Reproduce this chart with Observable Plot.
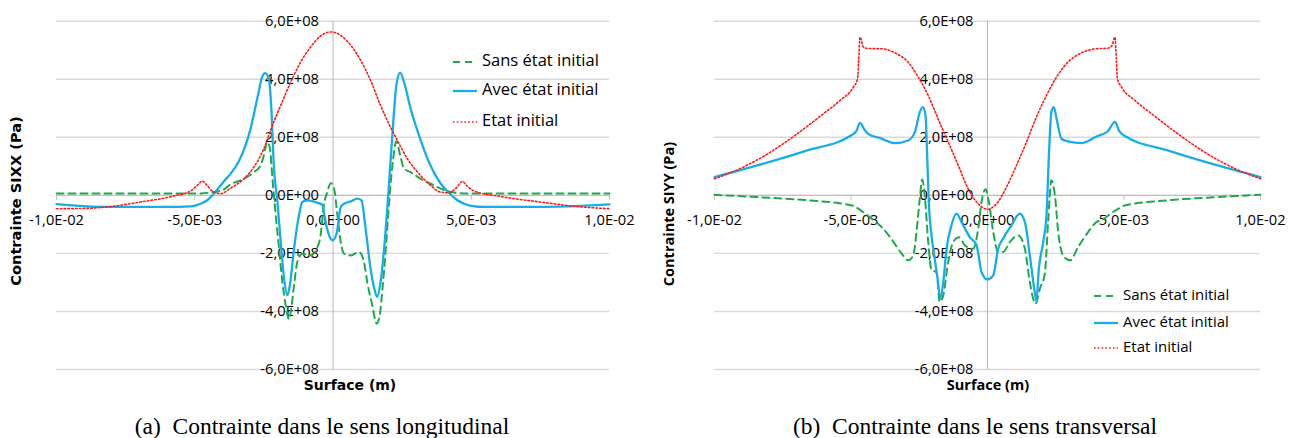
<!DOCTYPE html>
<html><head><meta charset="utf-8">
<script src="https://cdn.jsdelivr.net/npm/d3@7"></script>
<script src="https://cdn.jsdelivr.net/npm/@observablehq/plot@0.6"></script>
<style>
body{margin:0;background:#fff}
#wrap{position:relative;width:1291px;height:438px;overflow:hidden;background:#fff}
#wrap svg{position:absolute;top:0}
.cap{position:absolute;top:412px;font-family:"Liberation Serif",serif;font-size:23.5px;line-height:28px;white-space:pre;transform:translateX(-50%);color:#000}
</style></head><body><div id="wrap"></div>
<script>
// ---- ticks ----
const xTicks = [-0.01, -0.005, 0, 0.005, 0.01];
const xTickLabels = ["-1,0E-02", "-5,0E-03", "0,0E+00", "5,0E-03", "1,0E-02"];
const yTicks = [-6e8, -4e8, -2e8, 0, 2e8, 4e8, 6e8];
const yTickLabels = ["-6,0E+08", "-4,0E+08", "-2,0E+08", "0,0E+00", "2,0E+08", "4,0E+08", "6,0E+08"];
const seriesNames = ["Sans état initial", "Avec état initial", "Etat initial"];
const captions = ["(a)  Contrainte dans le sens longitudinal", "(b)  Contrainte dans le sens transversal"];

// ---- (a) SIXX ----
const sixxSans = [[-10e-3,0.06e8],[-8e-3,0.06e8],[-6e-3,0.06e8],[-5e-3,0.06e8],[-4.5e-3,0.09e8],[-4.0e-3,0.18e8],[-3.7e-3,0.38e8],[-3.22e-3,0.57e8],[-2.86e-3,0.80e8],[-2.62e-3,1.03e8],[-2.50e-3,1.38e8],[-2.38e-3,1.84e8],[-2.28e-3,1.61e8],[-2.20e-3,0.69e8],[-2.07e-3,-0.69e8],[-1.95e-3,-1.84e8],[-1.83e-3,-2.99e8],[-1.71e-3,-3.79e8],[-1.59e-3,-4.27e8],[-1.51e-3,-3.90e8],[-1.41e-3,-3.10e8],[-1.29e-3,-2.30e8],[-1.11e-3,-2.01e8],[-0.81e-3,-2.07e8],[-0.59e-3,-1.84e8],[-0.45e-3,-1.38e8],[-0.33e-3,-0.34e8],[-0.21e-3,0.11e8],[-0.08e-3,0.42e8],[0.04e-3,0.23e8],[0.16e-3,-0.69e8],[0.28e-3,-1.61e8],[0.40e-3,-2.01e8],[0.64e-3,-2.07e8],[0.94e-3,-1.95e8],[1.12e-3,-2.30e8],[1.24e-3,-2.99e8],[1.42e-3,-3.79e8],[1.58e-3,-4.42e8],[1.69e-3,-4.13e8],[1.79e-3,-3.21e8],[1.91e-3,-1.84e8],[2.03e-3,-0.23e8],[2.15e-3,1.03e8],[2.29e-3,1.86e8],[2.43e-3,1.38e8],[2.57e-3,0.92e8],[2.81e-3,0.80e8],[3.17e-3,0.57e8],[3.53e-3,0.40e8],[3.90e-3,0.23e8],[4.5e-3,0.08e8],[5e-3,0.06e8],[6e-3,0.06e8],[8e-3,0.06e8],[10e-3,0.06e8]];
const sixxAvec = [[-10e-3,-0.30e8],[-9e-3,-0.37e8],[-8e-3,-0.40e8],[-6e-3,-0.40e8],[-5.15e-3,-0.38e8],[-4.79e-3,-0.29e8],[-4.55e-3,-0.17e8],[-4.31e-3,0.06e8],[-3.95e-3,0.48e8],[-3.70e-3,0.75e8],[-3.40e-3,1.18e8],[-2.98e-3,2.30e8],[-2.74e-3,3.33e8],[-2.56e-3,4.08e8],[-2.46e-3,4.21e8],[-2.32e-3,4.02e8],[-2.23e-3,2.98e8],[-2.14e-3,1.03e8],[-2.01e-3,-0.23e8],[-1.89e-3,-1.61e8],[-1.77e-3,-2.87e8],[-1.65e-3,-3.44e8],[-1.56e-3,-3.10e8],[-1.41e-3,-1.84e8],[-1.23e-3,-0.69e8],[-1.11e-3,-0.23e8],[-0.93e-3,-0.17e8],[-0.57e-3,-0.25e8],[-0.39e-3,-0.32e8],[-0.27e-3,-0.92e8],[-0.14e-3,-1.38e8],[-0.02e-3,-1.55e8],[0.13e-3,-1.32e8],[0.28e-3,-0.40e8],[0.40e-3,-0.29e8],[0.64e-3,-0.21e8],[0.88e-3,-0.11e8],[1.03e-3,-0.17e8],[1.18e-3,-1.15e8],[1.36e-3,-2.53e8],[1.51e-3,-3.27e8],[1.60e-3,-3.50e8],[1.72e-3,-2.99e8],[1.87e-3,-1.61e8],[2.03e-3,0.46e8],[2.18e-3,2.53e8],[2.29e-3,3.79e8],[2.43e-3,4.23e8],[2.57e-3,3.90e8],[2.81e-3,2.98e8],[3.11e-3,2.07e8],[3.47e-3,1.15e8],[3.90e-3,0.40e8],[4.2e-3,0.08e8],[4.5e-3,-0.17e8],[5.0e-3,-0.36e8],[5.5e-3,-0.40e8],[7e-3,-0.40e8],[8.5e-3,-0.38e8],[10e-3,-0.31e8]];
const sixxEtat = [[-10e-3,-0.46e8],[-9e-3,-0.45e8],[-8.17e-3,-0.40e8],[-6.96e-3,-0.23e8],[-5.75e-3,-0.02e8],[-5.15e-3,0.15e8],[-4.91e-3,0.34e8],[-4.73e-3,0.49e8],[-4.55e-3,0.34e8],[-4.37e-3,0.15e8],[-4.06e-3,0.06e8],[-3.70e-3,0.25e8],[-3.22e-3,0.57e8],[-2.86e-3,0.98e8],[-2.50e-3,1.61e8],[-2.26e-3,2.24e8],[-1.89e-3,3.10e8],[-1.53e-3,3.90e8],[-1.17e-3,4.59e8],[-0.81e-3,5.11e8],[-0.45e-3,5.49e8],[-0.08e-3,5.63e8],[0.28e-3,5.51e8],[0.64e-3,5.17e8],[1.00e-3,4.65e8],[1.36e-3,3.96e8],[1.72e-3,3.10e8],[2.08e-3,2.35e8],[2.33e-3,1.89e8],[2.69e-3,1.26e8],[3.06e-3,0.80e8],[3.53e-3,0.34e8],[3.90e-3,0.11e8],[4.2e-3,0.09e8],[4.45e-3,0.25e8],[4.68e-3,0.48e8],[4.85e-3,0.32e8],[5.1e-3,0.15e8],[6.0e-3,-0.03e8],[7.5e-3,-0.23e8],[9.0e-3,-0.40e8],[10e-3,-0.46e8]];

// ---- (b) SIYY ----
const siyySans = [[-10e-3,0.02e8],[-8.43e-3,-0.06e8],[-6.6e-3,-0.17e8],[-5e-3,-0.34e8],[-4.52e-3,-0.60e8],[-4.27e-3,-0.78e8],[-3.88e-3,-1.09e8],[-3.52e-3,-1.50e8],[-3.15e-3,-2.00e8],[-2.91e-3,-2.24e8],[-2.72e-3,-2.07e8],[-2.60e-3,-1.26e8],[-2.48e-3,-0.11e8],[-2.39e-3,0.55e8],[-2.30e-3,0.0],[-2.17e-3,-1.61e8],[-2.05e-3,-2.58e8],[-1.87e-3,-2.64e8],[-1.75e-3,-3.67e8],[-1.62e-3,-3.44e8],[-1.44e-3,-2.30e8],[-1.26e-3,-1.61e8],[-1.05e-3,-1.44e8],[-0.83e-3,-1.72e8],[-0.53e-3,-1.84e8],[-0.34e-3,-1.15e8],[-0.22e-3,-0.23e8],[-0.07e-3,0.21e8],[0.05e-3,-0.23e8],[0.21e-3,-1.26e8],[0.39e-3,-1.95e8],[0.57e-3,-1.95e8],[0.82e-3,-1.61e8],[1.12e-3,-1.38e8],[1.37e-3,-1.84e8],[1.55e-3,-2.99e8],[1.76e-3,-3.73e8],[1.92e-3,-3.21e8],[2.10e-3,-2.70e8],[2.22e-3,-0.92e8],[2.34e-3,0.52e8],[2.47e-3,0.0],[2.59e-3,-1.26e8],[2.77e-3,-2.07e8],[3.02e-3,-2.24e8],[3.32e-3,-1.78e8],[3.69e-3,-1.26e8],[3.99e-3,-0.92e8],[4.16e-3,-0.86e8],[4.69e-3,-0.52e8],[5.06e-3,-0.34e8],[6.6e-3,-0.17e8],[8.43e-3,-0.06e8],[10e-3,0.02e8]];
const siyyAvec = [[-10e-3,0.63e8],[-8.43e-3,1.03e8],[-6.6e-3,1.55e8],[-4.99e-3,2.07e8],[-4.80e-3,2.22e8],[-4.67e-3,2.50e8],[-4.50e-3,2.25e8],[-4.37e-3,2.12e8],[-3.93e-3,1.97e8],[-3.39e-3,1.80e8],[-2.91e-3,1.89e8],[-2.66e-3,2.18e8],[-2.48e-3,2.87e8],[-2.37e-3,3.04e8],[-2.27e-3,2.76e8],[-2.21e-3,1.38e8],[-2.15e-3,-0.23e8],[-2.05e-3,-1.38e8],[-1.95e-3,-2.07e8],[-1.83e-3,-2.87e8],[-1.73e-3,-3.56e8],[-1.62e-3,-2.99e8],[-1.50e-3,-1.84e8],[-1.32e-3,-1.03e8],[-1.14e-3,-0.63e8],[-0.95e-3,-0.92e8],[-0.65e-3,-1.44e8],[-0.40e-3,-1.72e8],[-0.22e-3,-2.64e8],[0,-2.90e8],[0.21e-3,-2.76e8],[0.39e-3,-1.84e8],[0.57e-3,-1.49e8],[0.88e-3,-1.03e8],[1.18e-3,-0.63e8],[1.37e-3,-0.92e8],[1.55e-3,-2.07e8],[1.73e-3,-3.33e8],[1.79e-3,-3.62e8],[1.88e-3,-2.53e8],[2.04e-3,-1.61e8],[2.16e-3,-0.69e8],[2.26e-3,1.61e8],[2.34e-3,2.87e8],[2.43e-3,3.04e8],[2.53e-3,2.64e8],[2.71e-3,1.95e8],[2.95e-3,1.86e8],[3.44e-3,1.80e8],[3.99e-3,2.03e8],[4.40e-3,2.20e8],[4.67e-3,2.53e8],[4.82e-3,2.22e8],[4.99e-3,2.07e8],[6.6e-3,1.55e8],[8.43e-3,1.03e8],[10e-3,0.63e8]];
const siyyEtat = [[-10e-3,0.57e8],[-9e-3,0.95e8],[-8e-3,1.46e8],[-7e-3,2.10e8],[-6e-3,2.82e8],[-5.4e-3,3.27e8],[-4.91e-3,3.73e8],[-4.76e-3,4.02e8],[-4.72e-3,4.65e8],[-4.67e-3,5.45e8],[-4.55e-3,5.12e8],[-4.40e-3,5.06e8],[-3.88e-3,5.05e8],[-3.39e-3,4.91e8],[-2.91e-3,4.59e8],[-2.54e-3,4.08e8],[-2.17e-3,3.44e8],[-1.81e-3,2.64e8],[-1.44e-3,1.84e8],[-1.07e-3,1.03e8],[-0.71e-3,0.23e8],[-0.34e-3,-0.29e8],[0,-0.48e8],[0.33e-3,-0.29e8],[0.70e-3,0.29e8],[1.06e-3,1.03e8],[1.43e-3,1.84e8],[1.79e-3,2.70e8],[2.16e-3,3.44e8],[2.53e-3,4.08e8],[2.95e-3,4.59e8],[3.44e-3,4.91e8],[3.99e-3,5.05e8],[4.40e-3,5.07e8],[4.55e-3,5.15e8],[4.67e-3,5.45e8],[4.72e-3,4.65e8],[4.76e-3,4.02e8],[4.91e-3,3.73e8],[5.4e-3,3.27e8],[6e-3,2.82e8],[7e-3,2.10e8],[8e-3,1.46e8],[9e-3,0.95e8],[10e-3,0.57e8]];

const styles = [
  {stroke: "#1fa84c", strokeWidth: 2, strokeDasharray: "7,5"},
  {stroke: "#16aee9", strokeWidth: 2.3, strokeDasharray: null},
  {stroke: "#ff1a1a", strokeWidth: 1.6, strokeDasharray: "1.6,2.2"}
];

function rows(pairs) { return pairs.map(([x, y]) => ({x, y})); }

function panel(cfg) {
  const svg = Plot.plot({
    width: cfg.width, height: 400,
    marginTop: 20.7, marginBottom: 31, marginLeft: cfg.ml, marginRight: cfg.mr,
    x: {domain: [-0.01, 0.01], axis: null},
    y: {domain: [-6e8, 6e8], axis: null},
    style: {background: "transparent", overflow: "visible"},
    marks: [
      Plot.ruleY(yTicks, {stroke: "#d9d9d9", strokeWidth: 1.4}),
      Plot.ruleX([0], {stroke: "#b8b8b8", strokeWidth: 1}),
      Plot.ruleY([0], {stroke: "#bfbfbf", strokeWidth: 1.2}),
      Plot.ruleX(xTicks, {x: d => d, y1: 0, y2: 0, insetBottom: -5, stroke: "#bfbfbf"}),
      Plot.text(yTicks, {x: 0, y: d => d, text: (d, i) => yTickLabels[i], textAnchor: "end", dx: -14,
        fontFamily: "Open Sans", fontSize: 14.7, fill: "#000"}),
      Plot.text(xTicks, {x: d => d, y: 0, text: (d, i) => xTickLabels[i], dy: 25,
        fontFamily: "Open Sans", fontSize: 14.7, fill: "#000"}),
      ...cfg.series.map((s, k) => Plot.line(rows(s), {x: "x", y: "y", curve: "monotone-x", ...styles[k]}))
    ]
  });
  svg.style.left = cfg.left + "px";
  const g = d3.select(svg).append("g");
  // axis titles
  g.append("text").attr("transform", `translate(${cfg.yt[0]},${cfg.yt[1]}) rotate(-90)`)
    .attr("text-anchor", "middle").attr("dominant-baseline", "middle")
    .style("font-family", cfg.titleFont).style("font-weight", "bold").style("font-size", cfg.ytSize + "px")
    .text(cfg.ylabel);
  g.append("text").attr("x", cfg.xt[0]).attr("y", cfg.xt[1])
    .attr("text-anchor", "middle").attr("dominant-baseline", "middle")
    .style("font-family", cfg.titleFont).style("font-weight", "bold").style("font-size", cfg.titleSize + "px")
    .text("Surface (m)");
  // legend
  seriesNames.forEach((name, k) => {
    const y = cfg.leg.y[k];
    g.append("line").attr("x1", cfg.leg.x).attr("x2", cfg.leg.x + cfg.leg.len).attr("y1", y).attr("y2", y)
      .attr("stroke", styles[k].stroke).attr("stroke-width", styles[k].strokeWidth)
      .attr("stroke-dasharray", styles[k].strokeDasharray);
    g.append("text").attr("x", cfg.leg.x + cfg.leg.len + 5).attr("y", y)
      .attr("text-anchor", "start").attr("dominant-baseline", "middle")
      .style("font-family", "Open Sans").style("font-size", cfg.leg.size + "px").text(name);
  });
  return svg;
}

const wrap = document.getElementById("wrap");
wrap.appendChild(panel({
  left: 0, width: 645, ml: 56, mr: 36, series: [sixxSans, sixxAvec, sixxEtat],
  ylabel: "Contrainte SIXX (Pa)", titleFont: "DejaVu Sans", titleSize: 14, ytSize: 14.6,
  yt: [17, 201], xt: [350, 386],
  leg: {x: 453, len: 24, y: [62, 91, 122], size: 16.5}
}));
wrap.appendChild(panel({
  left: 645, width: 646, ml: 69, mr: 31, series: [siyySans, siyyAvec, siyyEtat],
  ylabel: "Contrainte SIYY (Pa)", titleFont: "Open Sans", titleSize: 14.5, ytSize: 14.5,
  yt: [25.5, 214], xt: [343, 386],
  leg: {x: 449, len: 24, y: [296, 323, 348], size: 15}
}));
captions.forEach((c, i) => {
  const d = document.createElement("div");
  d.className = "cap";
  d.style.left = (i === 0 ? 322 : 975) + "px";
  d.textContent = c;
  wrap.appendChild(d);
});
</script></body></html>
